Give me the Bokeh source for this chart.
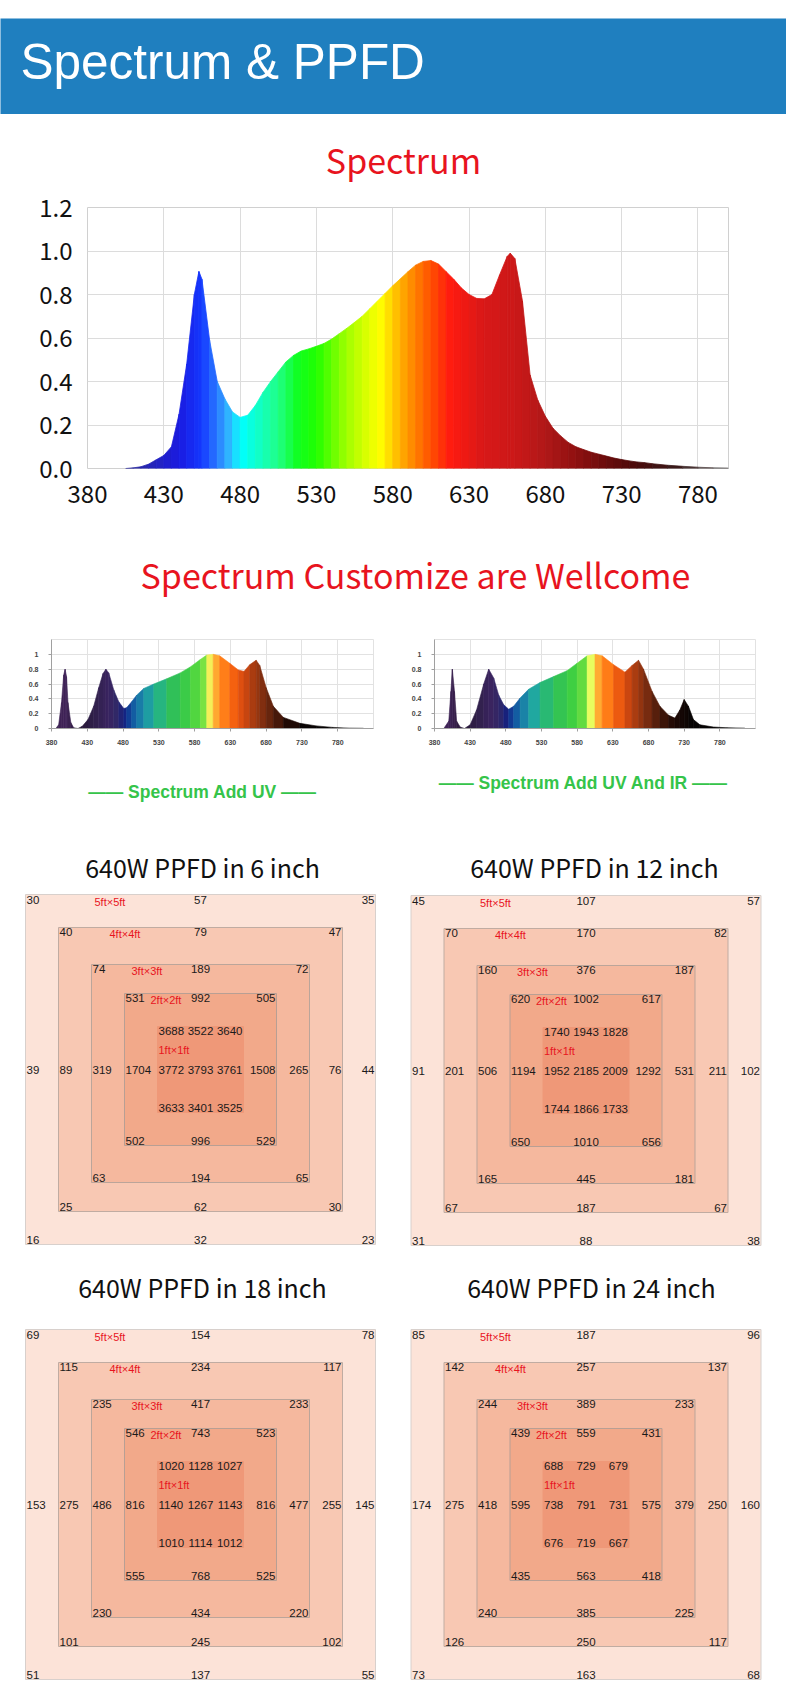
from bokeh.plotting import figure
from bokeh.models import Range1d, FixedTicker, Spacer, NumeralTickFormatter
from bokeh.layouts import column, row
from bokeh.core.properties import value
from bokeh.embed import file_html
from bokeh.resources import INLINE

# ---------------- data ----------------
header_text = "Spectrum & PPFD"
spectrum_title = "Spectrum"
custom_title = "Spectrum Customize are Wellcome"

spec_nm = [405, 410, 415, 420, 425, 430, 435, 440, 445, 450, 453, 455,
           460, 465, 470, 475, 480, 485, 490, 495, 500, 505, 510, 515, 520, 525,
           530, 535, 540, 545, 550, 555, 560, 565, 570, 575, 580, 585, 590, 595,
           600, 605, 610, 615, 620, 625, 630, 635, 640, 645, 650, 655, 657, 660,
           665, 670, 675, 680, 685, 690, 695, 700, 705, 710, 715, 720, 725, 730,
           735, 740, 745, 750, 760, 770, 780, 790, 800]
spec_val = [0.0, 0.003, 0.008, 0.02, 0.04, 0.06, 0.10, 0.25, 0.48, 0.80, 0.906, 0.87,
            0.59, 0.40, 0.32, 0.26, 0.235, 0.245, 0.29, 0.35, 0.40, 0.445, 0.49, 0.52, 0.54, 0.55,
            0.562, 0.575, 0.595, 0.62, 0.645, 0.672, 0.70, 0.735, 0.77, 0.805, 0.84, 0.872, 0.905, 0.935,
            0.952, 0.956, 0.94, 0.905, 0.87, 0.83, 0.80, 0.782, 0.78, 0.80, 0.89, 0.975, 0.99, 0.965,
            0.77, 0.43, 0.315, 0.24, 0.185, 0.15, 0.12, 0.10, 0.087, 0.075, 0.066, 0.057, 0.048, 0.041,
            0.035, 0.03, 0.027, 0.022, 0.015, 0.01, 0.006, 0.003, 0.002]
spec_xticks = [380, 430, 480, 530, 580, 630, 680, 730, 780]
spec_yticks = [0, 0.2, 0.4, 0.6, 0.8, 1.0, 1.2]

uv_nm = [386, 390, 394, 397, 399, 401, 403, 407, 411, 417, 423, 431, 439, 446, 452, 456,
         460, 467, 474, 481, 485, 492, 499, 509, 523, 541, 560, 574, 588, 597, 606, 615,
         629, 641, 649, 657, 666, 671, 680, 690, 704, 727, 750, 773, 796, 816]
uv_val = [0, 0.05, 0.35, 0.72, 0.80, 0.70, 0.35, 0.08, 0.01, 0.0, 0.03, 0.12, 0.30, 0.55, 0.74, 0.80,
          0.75, 0.52, 0.36, 0.27, 0.28, 0.36, 0.45, 0.54, 0.60, 0.67, 0.75, 0.83, 0.93, 0.99, 1.0, 0.98,
          0.88, 0.79, 0.77, 0.86, 0.92, 0.85, 0.55, 0.30, 0.15, 0.07, 0.035, 0.015, 0.005, 0.003]
uvir_nm = [393, 400, 403, 405, 408, 411, 416, 422, 430, 439, 449, 456, 463, 470, 477, 484,
           491, 500, 512, 528, 547, 566, 580, 594, 605, 615, 631, 647, 657, 666, 673, 685,
           696, 708, 717, 724, 730, 736, 743, 752, 771, 790, 815]
uvir_val = [0, 0.1, 0.5, 0.80, 0.5, 0.1, 0.02, 0.0, 0.05, 0.25, 0.6, 0.80, 0.68, 0.45, 0.32, 0.26,
            0.30, 0.41, 0.53, 0.62, 0.70, 0.78, 0.88, 0.98, 1.0, 0.98, 0.86, 0.76, 0.85, 0.92, 0.80, 0.50,
            0.30, 0.18, 0.14, 0.25, 0.39, 0.30, 0.12, 0.05, 0.02, 0.01, 0.005]
small_xticks = [380, 430, 480, 530, 580, 630, 680, 730, 780]
small_grid_x = [380, 430, 480, 530, 580, 630, 680, 730, 780, 830]
small_yticks = [0, 0.2, 0.4, 0.6, 0.8, 1.0]
small_grid_y = [0, 0.2, 0.4, 0.6, 0.8, 1.0, 1.2]
uv_caption = "—— Spectrum Add UV ——"
uvir_caption = "—— Spectrum Add UV And IR ——"

ring_labels = ["5ft×5ft", "4ft×4ft", "3ft×3ft", "2ft×2ft", "1ft×1ft"]
ring_feet = [5, 4, 3, 2, 1]

title_6in = "640W PPFD in 6 inch"
title_12in = "640W PPFD in 12 inch"
title_18in = "640W PPFD in 18 inch"
title_24in = "640W PPFD in 24 inch"

# rings 5ft..2ft: [corner-left, center, corner-right]
in6_top = [[30, 57, 35], [40, 79, 47], [74, 189, 72], [531, 992, 505]]
in6_bottom = [[16, 32, 23], [25, 62, 30], [63, 194, 65], [502, 996, 529]]
in6_mid = [39, 89, 319, 1704, 3772, 3793, 3761, 1508, 265, 76, 44]
in6_core_top = [3688, 3522, 3640]
in6_core_bottom = [3633, 3401, 3525]

in12_top = [[45, 107, 57], [70, 170, 82], [160, 376, 187], [620, 1002, 617]]
in12_bottom = [[31, 88, 38], [67, 187, 67], [165, 445, 181], [650, 1010, 656]]
in12_mid = [91, 201, 506, 1194, 1952, 2185, 2009, 1292, 531, 211, 102]
in12_core_top = [1740, 1943, 1828]
in12_core_bottom = [1744, 1866, 1733]

in18_top = [[69, 154, 78], [115, 234, 117], [235, 417, 233], [546, 743, 523]]
in18_bottom = [[51, 137, 55], [101, 245, 102], [230, 434, 220], [555, 768, 525]]
in18_mid = [153, 275, 486, 816, 1140, 1267, 1143, 816, 477, 255, 145]
in18_core_top = [1020, 1128, 1027]
in18_core_bottom = [1010, 1114, 1012]

in24_top = [[85, 187, 96], [142, 257, 137], [244, 389, 233], [439, 559, 431]]
in24_bottom = [[73, 163, 68], [126, 250, 117], [240, 385, 225], [435, 563, 418]]
in24_mid = [174, 275, 418, 595, 738, 791, 731, 575, 379, 250, 160]
in24_core_top = [688, 729, 679]
in24_core_bottom = [676, 719, 667]

# ---------------- styles ----------------
W = 786
RED = "#e8141e"
GREEN = "#35c44a"
BLUE = "#1f7fbf"
CJK = "Noto Sans CJK SC"
NUMF = "Liberation Sans"
ring_fill = ["#fce3d8", "#f8c8b3", "#f5b89e", "#f2a98a", "#ef9878"]
ring_line = ["#d8d0cc", "#c0aca2", "#bba59a", "#b89f94", None]
ring_dy = [0, 0, 4, 0, 0]
label_dx = [69, 51, 40, 26]

main_stops = [(400, "#2a2a8a"), (420, "#2626b4"), (440, "#1a1ae0"), (455, "#1438ff"),
              (465, "#2a78ff"), (474, "#30c0ff"), (481, "#00ffff"), (492, "#10ffc8"),
              (505, "#20ff88"), (518, "#10ff20"), (530, "#20ff00"), (550, "#a0ff00"),
              (566, "#e8ff00"), (572, "#ffff00"), (585, "#ffb000"), (595, "#ff8000"),
              (605, "#ff5000"), (618, "#ff1a10"), (640, "#d81818"), (660, "#cc1818"),
              (680, "#b01818"), (700, "#901010"), (720, "#6a0c0c"), (740, "#4a0a0a"),
              (765, "#3a1a1a"), (800, "#707070")]
small_stops = [(380, "#3a2050"), (400, "#402458"), (420, "#281838"), (440, "#30204a"),
               (460, "#3a2460"), (472, "#302868"), (482, "#142080"), (492, "#1050a0"),
               (505, "#1a80a8"), (520, "#20a8a0"), (535, "#28b878"), (550, "#30c058"),
               (575, "#40d040"), (592, "#70e040"), (600, "#f0ff60"), (606, "#ffc040"),
               (615, "#ff9020"), (630, "#ff6a10"), (648, "#d84a10"), (662, "#a83c10"),
               (678, "#7a2c10"), (695, "#4a1a0a"), (715, "#200a05"), (740, "#080404"),
               (830, "#000000")]


def hex2rgb(h):
    return tuple(int(h[i:i + 2], 16) for i in (1, 3, 5))


def wl_color(stops, w):
    if w <= stops[0][0]:
        return stops[0][1]
    for (a, ca), (b, cb) in zip(stops, stops[1:]):
        if a <= w <= b:
            t = (w - a) / (b - a)
            r1, g1, b1 = hex2rgb(ca)
            r2, g2, b2 = hex2rgb(cb)
            return "#%02x%02x%02x" % (round(r1 + (r2 - r1) * t), round(g1 + (g2 - g1) * t),
                                      round(b1 + (b2 - b1) * t))
    return stops[-1][1]


def spectrum_patches(p, nm, val, stops, lw):
    xs, ys, cols = [], [], []
    for i in range(len(nm) - 1):
        xs.append([nm[i], nm[i + 1], nm[i + 1], nm[i]])
        ys.append([val[i], val[i + 1], 0, 0])
        cols.append(wl_color(stops, (nm[i] + nm[i + 1]) / 2))
    p.patches(xs=xs, ys=ys, fill_color=cols, line_color=cols, line_width=lw)


def blank(w, h, xr, yr, bg="white"):
    p = figure(width=w, height=h, x_range=xr, y_range=yr, x_axis_type=None, y_axis_type=None,
               toolbar_location=None, output_backend="svg", min_border=0)
    p.outline_line_color = None
    p.background_fill_color = bg
    p.border_fill_color = bg
    return p


def add_texts(p, items, color, font, size, style="normal"):
    groups = {}
    for x, y, t, a, b in items:
        groups.setdefault((a, b), []).append((x, y, str(t)))
    for (a, b), lst in groups.items():
        p.text(x=[i[0] for i in lst], y=[i[1] for i in lst], text=[i[2] for i in lst],
               text_align=a, text_baseline=b, text_font=value(font), text_font_size=size,
               text_color=color, text_font_style=style)


# ---------------- header ----------------
top_space = Spacer(width=W, height=18)
hdr = blank(W, 96, Range1d(0, W), Range1d(96, 0), bg=BLUE)
add_texts(hdr, [(20, 43, header_text, "left", "middle")], "white", "Liberation Sans", "49.5px")

t1 = blank(W, 76, Range1d(0, W), Range1d(76, 0))
add_texts(t1, [(403, 45, spectrum_title, "center", "middle")], RED, CJK, "34px")

# ---------------- main spectrum ----------------
sp = figure(width=W, height=328, x_range=Range1d(380, 800), y_range=Range1d(0, 1.2),
            toolbar_location=None, output_backend="svg",
            min_border_left=87, min_border_right=58, min_border_top=17, min_border_bottom=50)
spectrum_patches(sp, spec_nm, spec_val, main_stops, 0.8)
sp.xaxis.ticker = FixedTicker(ticks=spec_xticks)
sp.yaxis.ticker = FixedTicker(ticks=spec_yticks)
sp.yaxis.formatter = NumeralTickFormatter(format="0.0")
for ax in (sp.xaxis[0], sp.yaxis[0]):
    ax.axis_line_color = None
    ax.major_tick_line_color = None
    ax.minor_tick_line_color = None
    ax.major_label_text_font = CJK
    ax.major_label_text_font_size = "24px"
    ax.major_label_text_color = "#111111"
sp.yaxis.major_label_standoff = 9
sp.xaxis.major_label_standoff = 10
sp.xgrid.grid_line_color = "#dcdcdc"
sp.ygrid.grid_line_color = "#dcdcdc"
sp.outline_line_color = "#d0d0d0"

t2 = blank(W, 107, Range1d(0, W), Range1d(107, 0))
add_texts(t2, [(415, 56, custom_title, "center", "middle")], RED, CJK, "34px")


# ---------------- small spectra ----------------
def small_chart(nm, val, bl, br):
    p = figure(width=393, height=140, x_range=Range1d(380, 830), y_range=Range1d(0, 1.2),
               toolbar_location=None, output_backend="svg",
               min_border_left=bl, min_border_right=br, min_border_top=14, min_border_bottom=37)
    spectrum_patches(p, nm, val, small_stops, 0.6)
    p.xaxis.ticker = FixedTicker(ticks=small_xticks)
    p.yaxis.ticker = FixedTicker(ticks=small_yticks)
    p.yaxis.formatter = NumeralTickFormatter(format="0.[0]")
    p.xgrid.ticker = FixedTicker(ticks=small_grid_x)
    p.ygrid.ticker = FixedTicker(ticks=small_grid_y)
    p.xgrid.grid_line_color = "#e2e2e2"
    p.ygrid.grid_line_color = "#e2e2e2"
    p.outline_line_color = "#e2e2e2"
    for ax in (p.xaxis[0], p.yaxis[0]):
        ax.axis_line_color = "#a0a0a0"
        ax.major_tick_line_color = "#a0a0a0"
        ax.major_tick_out = 3
        ax.major_tick_in = 0
        ax.minor_tick_line_color = None
        ax.major_label_text_font = "Liberation Sans"
        ax.major_label_text_font_style = "bold"
        ax.major_label_text_font_size = "7px"
        ax.major_label_text_color = "#444444"
    p.xaxis.major_label_standoff = 8
    p.yaxis.major_label_standoff = 10
    return p


s_uv = small_chart(uv_nm, uv_val, 51, 20)
s_uvir = small_chart(uvir_nm, uvir_val, 41, 31)

cap = blank(W, 50, Range1d(0, W), Range1d(50, 0))
add_texts(cap, [(202, 26, uv_caption, "center", "middle")], GREEN, "Liberation Sans", "17.5px", "bold")
add_texts(cap, [(583, 17, uvir_caption, "center", "middle")], GREEN, "Liberation Sans", "17.5px", "bold")

t3 = blank(W, 75, Range1d(0, W), Range1d(75, 0))
add_texts(t3, [(202, 51, title_6in, "center", "middle"),
               (594, 51, title_12in, "center", "middle")], "#111111", CJK, "25px")


# ---------------- PPFD grids ----------------
def ppfd_panel(cx, cy, top, bottom, mid, core_top, core_bottom):
    h_px = 360
    p = blank(393, h_px, Range1d(-cx, 393 - cx), Range1d(h_px - cy, -cy))
    half = [10 + 33 * n for n in ring_feet]
    p.rect(x=[0] * 5, y=ring_dy, width=[2 * h for h in half], height=[2 * h for h in half],
           fill_color=ring_fill, line_color=[c if c else f for c, f in zip(ring_line, ring_fill)],
           line_width=1)
    bp = 4.5
    items = []
    red = []
    for k in range(4):
        h = half[k]
        dy = ring_dy[k]
        tp = 1 if k == 0 else 0
        a, b, c = top[k]
        items += [(-h + 1, -h + tp + dy, a, "left", "top"), (0, -h + tp + dy, b, "center", "top"),
                  (h - 1, -h + tp + dy, c, "right", "top")]
        a, b, c = bottom[k]
        items += [(-h + 1, h - bp + dy, a, "left", "middle"), (0, h - bp + dy, b, "center", "middle"),
                  (h - 1, h - bp + dy, c, "right", "middle")]
        red.append((-h + label_dx[k], -h + tp + dy, ring_labels[k], "left", "top"))
    h1 = half[4]
    items += [(-h1 + 1, -h1, core_top[0], "left", "top"), (0, -h1, core_top[1], "center", "top"),
              (h1 - 1, -h1, core_top[2], "right", "top")]
    items += [(-h1 + 1, h1 - bp, core_bottom[0], "left", "middle"),
              (0, h1 - bp, core_bottom[1], "center", "middle"),
              (h1 - 1, h1 - bp, core_bottom[2], "right", "middle")]
    mid_x = [(-half[k] + 1, "left") for k in range(4)] + [(-h1 + 1, "left"), (0, "center"), (h1 - 1, "right")] \
        + [(half[k] - 1, "right") for k in (3, 2, 1, 0)]
    for (x, al), v in zip(mid_x, mid):
        items.append((x, 0, v, al, "middle"))
    add_texts(p, items, "#1a1a1a", NUMF, "11.5px")
    red.append((-h1 + 1, -20, ring_labels[4], "left", "middle"))
    add_texts(p, red, RED, NUMF, "11px")
    return p


g6 = ppfd_panel(200, 179, in6_top, in6_bottom, in6_mid, in6_core_top, in6_core_bottom)
g12 = ppfd_panel(192.5, 180, in12_top, in12_bottom, in12_mid, in12_core_top, in12_core_bottom)

t4 = blank(W, 75, Range1d(0, W), Range1d(75, 0))
add_texts(t4, [(202, 36, title_18in, "center", "middle"),
               (591, 36, title_24in, "center", "middle")], "#111111", CJK, "25px")

g18 = ppfd_panel(200, 179, in18_top, in18_bottom, in18_mid, in18_core_top, in18_core_bottom)
g24 = ppfd_panel(192.5, 179, in24_top, in24_bottom, in24_mid, in24_core_top, in24_core_bottom)

layout = column(top_space, row(hdr), row(t1), row(sp), row(t2), row(s_uv, s_uvir), row(cap),
                row(t3), row(g6, g12), row(t4), row(g18, g24), Spacer(width=W, height=20))

open("out.html", "w").write(file_html(layout, INLINE))
